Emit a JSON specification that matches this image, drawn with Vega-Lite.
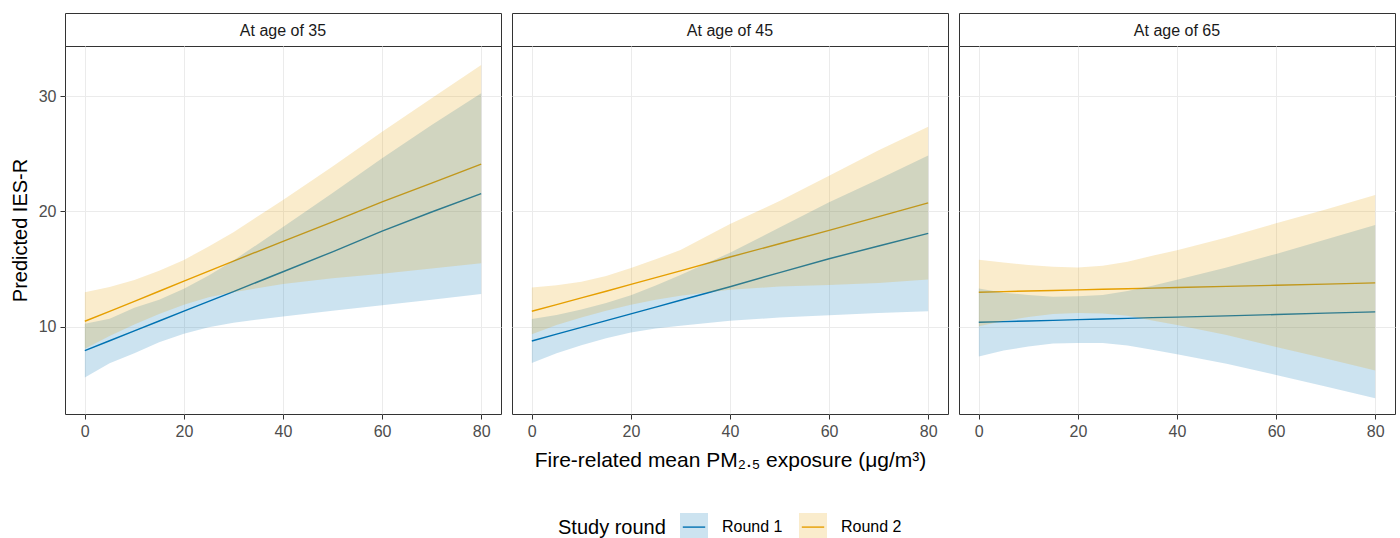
{
  "$schema": "https://vega.github.io/schema/vega-lite/v6.json",
  "background": "white",
  "padding": {"left": 9, "top": 12, "right": 3, "bottom": 0},
  "datasets": {
    "pred": [
      {"age": "At age of 35", "round": "Round 1", "x": 0, "fit": 7.93, "lo": 5.6, "hi": 10.26},
      {"age": "At age of 35", "round": "Round 1", "x": 5, "fit": 8.79, "lo": 6.85, "hi": 10.7},
      {"age": "At age of 35", "round": "Round 1", "x": 10, "fit": 9.65, "lo": 7.7, "hi": 11.65},
      {"age": "At age of 35", "round": "Round 1", "x": 15, "fit": 10.5, "lo": 8.65, "hi": 12.35},
      {"age": "At age of 35", "round": "Round 1", "x": 20, "fit": 11.35, "lo": 9.4, "hi": 13.3},
      {"age": "At age of 35", "round": "Round 1", "x": 25, "fit": 12.2, "lo": 9.95, "hi": 14.45},
      {"age": "At age of 35", "round": "Round 1", "x": 30, "fit": 13.05, "lo": 10.35, "hi": 15.75},
      {"age": "At age of 35", "round": "Round 1", "x": 40, "fit": 14.77, "lo": 10.9, "hi": 18.64},
      {"age": "At age of 35", "round": "Round 1", "x": 50, "fit": 16.5, "lo": 11.4, "hi": 21.6},
      {"age": "At age of 35", "round": "Round 1", "x": 60, "fit": 18.3, "lo": 11.87, "hi": 24.6},
      {"age": "At age of 35", "round": "Round 1", "x": 70, "fit": 19.95, "lo": 12.35, "hi": 27.5},
      {"age": "At age of 35", "round": "Round 1", "x": 80, "fit": 21.55, "lo": 12.85, "hi": 30.25},
      {"age": "At age of 35", "round": "Round 2", "x": 0, "fit": 10.48, "lo": 8.1, "hi": 13.0},
      {"age": "At age of 35", "round": "Round 2", "x": 5, "fit": 11.34, "lo": 9.2, "hi": 13.45},
      {"age": "At age of 35", "round": "Round 2", "x": 10, "fit": 12.2, "lo": 10.2, "hi": 14.05},
      {"age": "At age of 35", "round": "Round 2", "x": 15, "fit": 13.08, "lo": 11.1, "hi": 14.85},
      {"age": "At age of 35", "round": "Round 2", "x": 20, "fit": 13.96, "lo": 11.9, "hi": 15.8},
      {"age": "At age of 35", "round": "Round 2", "x": 25, "fit": 14.83, "lo": 12.55, "hi": 16.95},
      {"age": "At age of 35", "round": "Round 2", "x": 30, "fit": 15.7, "lo": 13.0, "hi": 18.2},
      {"age": "At age of 35", "round": "Round 2", "x": 40, "fit": 17.4, "lo": 13.7, "hi": 21.0},
      {"age": "At age of 35", "round": "Round 2", "x": 50, "fit": 19.1, "lo": 14.2, "hi": 23.9},
      {"age": "At age of 35", "round": "Round 2", "x": 60, "fit": 20.83, "lo": 14.6, "hi": 26.9},
      {"age": "At age of 35", "round": "Round 2", "x": 70, "fit": 22.45, "lo": 15.05, "hi": 29.8},
      {"age": "At age of 35", "round": "Round 2", "x": 80, "fit": 24.1, "lo": 15.5, "hi": 32.7},
      {"age": "At age of 45", "round": "Round 1", "x": 0, "fit": 8.77, "lo": 6.86, "hi": 10.68},
      {"age": "At age of 45", "round": "Round 1", "x": 5, "fit": 9.36, "lo": 7.7, "hi": 11.02},
      {"age": "At age of 45", "round": "Round 1", "x": 10, "fit": 9.95, "lo": 8.4, "hi": 11.5},
      {"age": "At age of 45", "round": "Round 1", "x": 15, "fit": 10.53, "lo": 9.0, "hi": 12.06},
      {"age": "At age of 45", "round": "Round 1", "x": 20, "fit": 11.12, "lo": 9.5, "hi": 12.74},
      {"age": "At age of 45", "round": "Round 1", "x": 25, "fit": 11.71, "lo": 9.85, "hi": 13.57},
      {"age": "At age of 45", "round": "Round 1", "x": 30, "fit": 12.3, "lo": 10.1, "hi": 14.5},
      {"age": "At age of 45", "round": "Round 1", "x": 40, "fit": 13.47, "lo": 10.52, "hi": 16.42},
      {"age": "At age of 45", "round": "Round 1", "x": 50, "fit": 14.7, "lo": 10.8, "hi": 18.6},
      {"age": "At age of 45", "round": "Round 1", "x": 60, "fit": 15.9, "lo": 11.0, "hi": 20.8},
      {"age": "At age of 45", "round": "Round 1", "x": 70, "fit": 17.0, "lo": 11.2, "hi": 22.8},
      {"age": "At age of 45", "round": "Round 1", "x": 80, "fit": 18.1, "lo": 11.35, "hi": 24.85},
      {"age": "At age of 45", "round": "Round 2", "x": 0, "fit": 11.35, "lo": 9.35, "hi": 13.4},
      {"age": "At age of 45", "round": "Round 2", "x": 5, "fit": 11.92, "lo": 10.15, "hi": 13.6},
      {"age": "At age of 45", "round": "Round 2", "x": 10, "fit": 12.5, "lo": 10.8, "hi": 13.9},
      {"age": "At age of 45", "round": "Round 2", "x": 15, "fit": 13.08, "lo": 11.4, "hi": 14.4},
      {"age": "At age of 45", "round": "Round 2", "x": 20, "fit": 13.67, "lo": 11.9, "hi": 15.1},
      {"age": "At age of 45", "round": "Round 2", "x": 25, "fit": 14.26, "lo": 12.35, "hi": 15.85},
      {"age": "At age of 45", "round": "Round 2", "x": 30, "fit": 14.85, "lo": 12.7, "hi": 16.65},
      {"age": "At age of 45", "round": "Round 2", "x": 40, "fit": 16.05, "lo": 13.2, "hi": 18.9},
      {"age": "At age of 45", "round": "Round 2", "x": 50, "fit": 17.2, "lo": 13.5, "hi": 20.9},
      {"age": "At age of 45", "round": "Round 2", "x": 60, "fit": 18.36, "lo": 13.62, "hi": 23.1},
      {"age": "At age of 45", "round": "Round 2", "x": 70, "fit": 19.55, "lo": 13.8, "hi": 25.3},
      {"age": "At age of 45", "round": "Round 2", "x": 80, "fit": 20.74, "lo": 14.1, "hi": 27.35},
      {"age": "At age of 65", "round": "Round 1", "x": 0, "fit": 10.39, "lo": 7.43, "hi": 13.32},
      {"age": "At age of 65", "round": "Round 1", "x": 5, "fit": 10.45, "lo": 7.94, "hi": 12.96},
      {"age": "At age of 65", "round": "Round 1", "x": 10, "fit": 10.5, "lo": 8.3, "hi": 12.75},
      {"age": "At age of 65", "round": "Round 1", "x": 15, "fit": 10.56, "lo": 8.55, "hi": 12.6},
      {"age": "At age of 65", "round": "Round 1", "x": 20, "fit": 10.62, "lo": 8.6, "hi": 12.65},
      {"age": "At age of 65", "round": "Round 1", "x": 25, "fit": 10.67, "lo": 8.6, "hi": 12.76},
      {"age": "At age of 65", "round": "Round 1", "x": 30, "fit": 10.73, "lo": 8.37, "hi": 13.1},
      {"age": "At age of 65", "round": "Round 1", "x": 35, "fit": 10.79, "lo": 8.02, "hi": 13.56},
      {"age": "At age of 65", "round": "Round 1", "x": 40, "fit": 10.84, "lo": 7.62, "hi": 14.08},
      {"age": "At age of 65", "round": "Round 1", "x": 50, "fit": 10.95, "lo": 6.8, "hi": 15.15},
      {"age": "At age of 65", "round": "Round 1", "x": 60, "fit": 11.06, "lo": 5.82, "hi": 16.32},
      {"age": "At age of 65", "round": "Round 1", "x": 70, "fit": 11.18, "lo": 4.82, "hi": 17.56},
      {"age": "At age of 65", "round": "Round 1", "x": 80, "fit": 11.29, "lo": 3.81, "hi": 18.83},
      {"age": "At age of 65", "round": "Round 2", "x": 0, "fit": 13.0, "lo": 10.05, "hi": 15.81},
      {"age": "At age of 65", "round": "Round 2", "x": 5, "fit": 13.05, "lo": 10.5, "hi": 15.58},
      {"age": "At age of 65", "round": "Round 2", "x": 10, "fit": 13.1, "lo": 10.85, "hi": 15.35},
      {"age": "At age of 65", "round": "Round 2", "x": 15, "fit": 13.15, "lo": 11.1, "hi": 15.2},
      {"age": "At age of 65", "round": "Round 2", "x": 20, "fit": 13.2, "lo": 11.2, "hi": 15.15},
      {"age": "At age of 65", "round": "Round 2", "x": 25, "fit": 13.25, "lo": 11.15, "hi": 15.3},
      {"age": "At age of 65", "round": "Round 2", "x": 30, "fit": 13.3, "lo": 10.95, "hi": 15.64},
      {"age": "At age of 65", "round": "Round 2", "x": 35, "fit": 13.35, "lo": 10.55, "hi": 16.16},
      {"age": "At age of 65", "round": "Round 2", "x": 40, "fit": 13.4, "lo": 10.15, "hi": 16.64},
      {"age": "At age of 65", "round": "Round 2", "x": 50, "fit": 13.5, "lo": 9.28, "hi": 17.73},
      {"age": "At age of 65", "round": "Round 2", "x": 60, "fit": 13.6, "lo": 8.25, "hi": 18.97},
      {"age": "At age of 65", "round": "Round 2", "x": 70, "fit": 13.7, "lo": 7.25, "hi": 20.16},
      {"age": "At age of 65", "round": "Round 2", "x": 80, "fit": 13.81, "lo": 6.2, "hi": 21.43}
    ]
  },
  "config": {
    "font": "Liberation Sans",
    "view": {"stroke": "#333333", "strokeWidth": 1},
    "axis": {
      "domain": false,
      "gridColor": "#ebebeb",
      "gridWidth": 1,
      "tickColor": "#333333",
      "tickSize": 5,
      "tickWidth": 1,
      "labelColor": "#4d4d4d",
      "labelFontSize": 16,
      "labelPadding": 4,
      "titleFontSize": 20,
      "titleFontWeight": "normal",
      "titleColor": "#000000"
    },
    "legend": {"layout": {"bottom": {"anchor": "middle"}}}
  },
  "spacing": 9,
  "resolve": {"legend": {"color": "independent"}},
  "hconcat": [
    {
      "bounds": "flush",
      "spacing": 0,
      "resolve": {"legend": {"color": "independent"}},
      "vconcat": [
        {
          "width": 436, "height": 33,
          "view": {"stroke": "#333333", "strokeWidth": 1, "fill": "white"},
          "data": {"values": [{"label": "At age of 35"}]},
          "mark": {"type": "text", "fontSize": 16, "color": "#1a1a1a", "dy": 1},
          "encoding": {"text": {"field": "label"}}
        },
        {
          "width": 436, "height": 368,
          "data": {"name": "pred"},
          "transform": [{"filter": "datum.age === 'At age of 35'"}],
          "layer": [
            {
              "mark": {"type": "line", "strokeWidth": 1.4},
              "encoding": {
                "x": {"field": "x", "type": "quantitative", "scale": {"domain": [-4, 84], "nice": false, "zero": false}, "axis": {"values": [0, 20, 40, 60, 80], "title": null, "orient": "bottom"}},
                "y": {"field": "fit", "type": "quantitative", "scale": {"domain": [2.44, 34.34], "nice": false, "zero": false}, "axis": {"values": [10, 20, 30], "title": "Predicted IES-R", "orient": "left", "titlePadding": 8}},
                "color": {
                  "field": "round", "type": "nominal",
                  "scale": {"domain": ["Round 1", "Round 2"], "range": ["#0072B2", "#E69F00"]},
                  "legend": null
                }
              }
            },
            {
              "mark": {"type": "area", "fillOpacity": 0.2},
              "encoding": {
                "x": {"field": "x", "type": "quantitative", "axis": {"values": [10, 30, 50, 70], "orient": "top", "labels": false, "ticks": false, "title": null, "gridColor": "#f2f2f2"}},
                "y": {"field": "lo", "type": "quantitative", "stack": null, "axis": {"values": [5, 15, 25], "orient": "right", "labels": false, "ticks": false, "title": null, "gridColor": "#f2f2f2"}},
                "y2": {"field": "hi"},
                "color": {"field": "round", "type": "nominal", "legend": null}
              }
            }
          ],
          "resolve": {"axis": {"x": "independent", "y": "independent"}}
        }
      ]
    },
    {
      "bounds": "flush",
      "spacing": 0,
      "resolve": {"legend": {"color": "independent"}},
      "vconcat": [
        {
          "width": 436, "height": 33,
          "view": {"stroke": "#333333", "strokeWidth": 1, "fill": "white"},
          "data": {"values": [{"label": "At age of 45"}]},
          "mark": {"type": "text", "fontSize": 16, "color": "#1a1a1a", "dy": 1},
          "encoding": {"text": {"field": "label"}}
        },
        {
          "width": 436, "height": 368,
          "data": {"name": "pred"},
          "transform": [{"filter": "datum.age === 'At age of 45'"}],
          "layer": [
            {
              "mark": {"type": "line", "strokeWidth": 1.4},
              "encoding": {
                "x": {"field": "x", "type": "quantitative", "scale": {"domain": [-4, 84], "nice": false, "zero": false}, "axis": {"values": [0, 20, 40, 60, 80], "title": "Fire-related mean PM₂.₅ exposure (μg/m³)", "titleFontSize": 21, "titlePadding": 10, "orient": "bottom"}},
                "y": {"field": "fit", "type": "quantitative", "scale": {"domain": [2.44, 34.34], "nice": false, "zero": false}, "axis": {"values": [10, 20, 30], "title": null, "labels": false, "ticks": false, "orient": "left"}},
                "color": {
                  "field": "round", "type": "nominal",
                  "legend": {
                    "orient": "bottom", "direction": "horizontal",
                    "title": "Study round", "titleOrient": "left",
                    "titleFontSize": 20, "titleFontWeight": "normal", "titleColor": "#000000",
                    "titlePadding": 13,
                    "labelFontSize": 16, "labelColor": "#000000", "labelOffset": 13,
                    "columnPadding": 13,
                    "symbolType": "M-0.8,0H0.8L1,0V1H-1V-1H1V0Z",
                    "symbolSize": 784,
                    "symbolStrokeWidth": 1.4,
                    "symbolDash": [22.4, 1000],
                    "offset": 42,
                    "encode": {"symbols": {"update": {
                      "fill": {"scale": "color", "field": "value"},
                      "fillOpacity": {"value": 0.2},
                      "stroke": {"scale": "color", "field": "value"},
                      "strokeOpacity": {"value": 1}
                    }}}
                  }
                }
              }
            },
            {
              "mark": {"type": "area", "fillOpacity": 0.2},
              "encoding": {
                "x": {"field": "x", "type": "quantitative", "axis": {"values": [10, 30, 50, 70], "orient": "top", "labels": false, "ticks": false, "title": null, "gridColor": "#f2f2f2"}},
                "y": {"field": "lo", "type": "quantitative", "stack": null, "axis": {"values": [5, 15, 25], "orient": "right", "labels": false, "ticks": false, "title": null, "gridColor": "#f2f2f2"}},
                "y2": {"field": "hi"},
                "color": {"field": "round", "type": "nominal"}
              }
            }
          ],
          "resolve": {"axis": {"x": "independent", "y": "independent"}}
        }
      ]
    },
    {
      "bounds": "flush",
      "spacing": 0,
      "resolve": {"legend": {"color": "independent"}},
      "vconcat": [
        {
          "width": 436, "height": 33,
          "view": {"stroke": "#333333", "strokeWidth": 1, "fill": "white"},
          "data": {"values": [{"label": "At age of 65"}]},
          "mark": {"type": "text", "fontSize": 16, "color": "#1a1a1a", "dy": 1},
          "encoding": {"text": {"field": "label"}}
        },
        {
          "width": 436, "height": 368,
          "data": {"name": "pred"},
          "transform": [{"filter": "datum.age === 'At age of 65'"}],
          "layer": [
            {
              "mark": {"type": "line", "strokeWidth": 1.4},
              "encoding": {
                "x": {"field": "x", "type": "quantitative", "scale": {"domain": [-4, 84], "nice": false, "zero": false}, "axis": {"values": [0, 20, 40, 60, 80], "title": null, "orient": "bottom"}},
                "y": {"field": "fit", "type": "quantitative", "scale": {"domain": [2.44, 34.34], "nice": false, "zero": false}, "axis": {"values": [10, 20, 30], "title": null, "labels": false, "ticks": false, "orient": "left"}},
                "color": {"field": "round", "type": "nominal", "legend": null}
              }
            },
            {
              "mark": {"type": "area", "fillOpacity": 0.2},
              "encoding": {
                "x": {"field": "x", "type": "quantitative", "axis": {"values": [10, 30, 50, 70], "orient": "top", "labels": false, "ticks": false, "title": null, "gridColor": "#f2f2f2"}},
                "y": {"field": "lo", "type": "quantitative", "stack": null, "axis": {"values": [5, 15, 25], "orient": "right", "labels": false, "ticks": false, "title": null, "gridColor": "#f2f2f2"}},
                "y2": {"field": "hi"},
                "color": {"field": "round", "type": "nominal", "legend": null}
              }
            }
          ],
          "resolve": {"axis": {"x": "independent", "y": "independent"}}
        }
      ]
    }
  ]
}
